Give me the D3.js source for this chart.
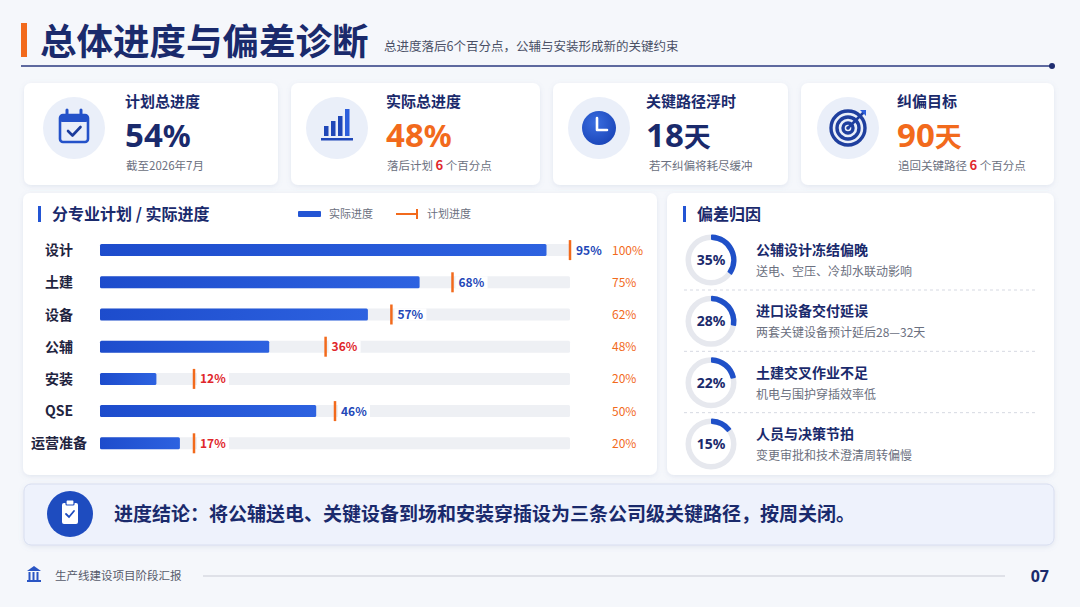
<!DOCTYPE html>
<html><head><meta charset="utf-8">
<script src="https://cdn.jsdelivr.net/npm/d3@7"></script>
<style>
body{margin:0;background:#f5f7fb;}
svg{display:block;font-family:"Noto Sans CJK SC","Noto Sans",sans-serif;}
</style>
</head><body>
<svg id="c" width="1080" height="607"></svg>
<script>
// ---------- data ----------
const pageTitle = "总体进度与偏差诊断";
const pageSubtitle = "总进度落后6个百分点，公辅与安装形成新的关键约束";
const kpiLabels = ["计划总进度", "实际总进度", "关键路径浮时", "纠偏目标"];
const kpiValues = ["54", "48", "18", "90"];
const kpiUnits = ["%", "%", "天", "天"];
const kpiNotePre = ["截至2026年7月", "落后计划 ", "若不纠偏将耗尽缓冲", "追回关键路径 "];
const kpiNoteNum = ["", "6", "", "6"];
const kpiNotePost = ["", " 个百分点", "", " 个百分点"];

const chartTitle = "分专业计划 / 实际进度";
const legendLabels = ["实际进度", "计划进度"];
const categories = ["设计", "土建", "设备", "公辅", "安装", "QSE", "运营准备"];
const actual = [95, 68, 57, 36, 12, 46, 17];
const plan = [100, 75, 62, 48, 20, 50, 20];

const causeTitle = "偏差归因";
const causes = ["公辅设计冻结偏晚", "进口设备交付延误", "土建交叉作业不足", "人员与决策节拍"];
const causeShares = [35, 28, 22, 15];
const causeNotes = ["送电、空压、冷却水联动影响", "两套关键设备预计延后28—32天", "机电与围护穿插效率低", "变更审批和技术澄清周转偏慢"];

const conclusion = "进度结论：将公辅送电、关键设备到场和安装穿插设为三条公司级关键路径，按周关闭。";
const footerText = "生产线建设项目阶段汇报";
const pageNo = "07";

// ---------- styles ----------
const NAVY = "#1a2a6c", BLUE = "#2355d4", ORANGE = "#f26a1c", RED = "#e0262b", GRAY = "#6b7080";

const svg = d3.select("#c");
const defs = svg.append("defs");
const f = defs.append("filter").attr("id", "sh").attr("x", "-10%").attr("y", "-10%").attr("width", "120%").attr("height", "130%");
f.append("feDropShadow").attr("dx", 0).attr("dy", 1.5).attr("stdDeviation", 2.5).attr("flood-color", "#7d8bb5").attr("flood-opacity", 0.16);
const g1 = defs.append("linearGradient").attr("id", "barg").attr("x1", 0).attr("x2", 1);
g1.append("stop").attr("offset", 0).attr("stop-color", "#1d4ccc");
g1.append("stop").attr("offset", 1).attr("stop-color", "#2d62e0");
const g2 = defs.append("radialGradient").attr("id", "clk").attr("cx", "40%").attr("cy", "35%").attr("r", "70%");
g2.append("stop").attr("offset", 0).attr("stop-color", "#3a6de0");
g2.append("stop").attr("offset", 1).attr("stop-color", "#1a45b8");

svg.append("rect").attr("width", 1080).attr("height", 607).attr("fill", "#f5f7fb");

// ---------- header ----------
svg.append("rect").attr("x", 21).attr("y", 23).attr("width", 6).attr("height", 34).attr("fill", ORANGE);
svg.append("text").attr("x", 40).attr("y", 55).attr("font-size", 36.5).attr("font-weight", 700).attr("fill", NAVY).text(pageTitle);
svg.append("text").attr("x", 384).attr("y", 51).attr("font-size", 12.5).attr("fill", "#4a5066").text(pageSubtitle);
svg.append("line").attr("x1", 21).attr("x2", 1050).attr("y1", 66).attr("y2", 66).attr("stroke", "#2b3a80").attr("stroke-width", 1.6);
svg.append("circle").attr("cx", 1052).attr("cy", 66).attr("r", 3).attr("fill", "#1f2d70");

// ---------- KPI cards ----------
const cardX = [24, 291, 553, 801], cardW = [254, 249, 235, 253];
kpiLabels.forEach((lab, i) => {
  const g = svg.append("g");
  g.append("rect").attr("x", cardX[i]).attr("y", 83).attr("width", cardW[i]).attr("height", 102).attr("rx", 7).attr("fill", "#fff").attr("filter", "url(#sh)");
  const cx = [74, 337, 599, 848][i], cy = 128;
  g.append("circle").attr("cx", cx).attr("cy", cy).attr("r", 31).attr("fill", "#eaeff9");
  const tx = [125, 386, 646, 897][i];
  g.append("text").attr("x", tx).attr("y", 107).attr("font-size", 15).attr("font-weight", 700).attr("fill", NAVY).text(lab);
  const orange = (i === 1 || i === 3);
  const v = g.append("text").attr("x", tx).attr("y", 147).attr("font-weight", 700).attr("fill", orange ? ORANGE : NAVY);
  v.append("tspan").attr("font-size", 33).attr("font-family", "'Noto Sans',sans-serif").text(kpiValues[i]);
  v.append("tspan").attr("font-size", kpiUnits[i] === "%" ? 31 : 27).attr("font-family", kpiUnits[i] === "%" ? "'Noto Sans',sans-serif" : null).text(kpiUnits[i]);
  const n = g.append("text").attr("x", i === 2 ? 649 : tx + 1).attr("y", 170).attr("font-size", 11.5).attr("fill", GRAY);
  n.append("tspan").text(kpiNotePre[i]);
  if (kpiNoteNum[i]) {
    n.append("tspan").attr("fill", RED).attr("font-weight", 700).attr("font-size", 13).text(kpiNoteNum[i]);
    n.append("tspan").text(kpiNotePost[i]);
  }
  // icons
  if (i === 0) {
    g.append("rect").attr("x", cx - 14).attr("y", cy - 13).attr("width", 28).attr("height", 27).attr("rx", 3).attr("fill", "none").attr("stroke", "#2452c9").attr("stroke-width", 2.6);
    g.append("rect").attr("x", cx - 14).attr("y", cy - 13).attr("width", 28).attr("height", 7).attr("rx", 2).attr("fill", "#2452c9");
    [-7, 7].forEach(d => g.append("line").attr("x1", cx + d).attr("x2", cx + d).attr("y1", cy - 18).attr("y2", cy - 10).attr("stroke", "#2452c9").attr("stroke-width", 3).attr("stroke-linecap", "round"));
    g.append("path").attr("d", `M${cx-6},${cy+3} L${cx-1.5},${cy+7.5} L${cx+6.5},${cy-1}`).attr("fill", "none").attr("stroke", "#1b3c9c").attr("stroke-width", 2.6).attr("stroke-linecap", "round").attr("stroke-linejoin", "round");
  } else if (i === 1) {
    const hs = [10, 15, 20, 27];
    hs.forEach((h, k) => g.append("rect").attr("x", cx - 13 + k * 7).attr("y", cy + 8 - h).attr("width", 4.5).attr("height", h).attr("fill", k === 3 ? "#2d5fdc" : "#1f47b8"));
    g.append("rect").attr("x", cx - 16).attr("y", cy + 10).attr("width", 32).attr("height", 2.5).attr("fill", "#1f47b8");
  } else if (i === 2) {
    g.append("circle").attr("cx", cx).attr("cy", cy).attr("r", 17).attr("fill", "url(#clk)");
    g.append("path").attr("d", `M${cx-2},${cy-10} L${cx-2},${cy+2} L${cx+8},${cy+2}`).attr("fill", "none").attr("stroke", "#fff").attr("stroke-width", 2.6).attr("stroke-linecap", "round").attr("stroke-linejoin", "round");
  } else {
    [17, 11, 5].forEach(r => g.append("circle").attr("cx", cx).attr("cy", cy).attr("r", r).attr("fill", "none").attr("stroke", "#1f3f9e").attr("stroke-width", 3.4));
    g.append("line").attr("x1", cx).attr("y1", cy).attr("x2", cx + 15).attr("y2", cy - 15).attr("stroke", "#1f3f9e").attr("stroke-width", 2.6).attr("stroke-linecap", "round");
    g.append("path").attr("d", `M${cx+12},${cy-18} L${cx+18},${cy-18} L${cx+18},${cy-12} Z`).attr("fill", "#2d5fdc");
    g.append("circle").attr("cx", cx).attr("cy", cy).attr("r", 1.8).attr("fill", "#1f3f9e");
  }
});

// ---------- bar chart panel ----------
svg.append("rect").attr("x", 23).attr("y", 193).attr("width", 634).attr("height", 282).attr("rx", 7).attr("fill", "#fff").attr("filter", "url(#sh)");
svg.append("rect").attr("x", 38).attr("y", 206).attr("width", 3).attr("height", 16).attr("fill", BLUE);
svg.append("text").attr("x", 52).attr("y", 220).attr("font-size", 16).attr("font-weight", 700).attr("fill", NAVY).text(chartTitle);
// legend
svg.append("rect").attr("x", 298).attr("y", 211).attr("width", 23).attr("height", 6).attr("rx", 1).attr("fill", BLUE);
svg.append("text").attr("x", 329).attr("y", 218).attr("font-size", 11).attr("fill", GRAY).text(legendLabels[0]);
svg.append("line").attr("x1", 396).attr("x2", 418).attr("y1", 214).attr("y2", 214).attr("stroke", ORANGE).attr("stroke-width", 2);
svg.append("line").attr("x1", 417).attr("x2", 417).attr("y1", 209).attr("y2", 219).attr("stroke", ORANGE).attr("stroke-width", 2);
svg.append("text").attr("x", 427).attr("y", 218).attr("font-size", 11).attr("fill", GRAY).text(legendLabels[1]);

const x = d3.scaleLinear().domain([0, 100]).range([100, 570]);
const y = d3.scalePoint().domain(categories).range([234, 459.4]).padding(0.5);
const bh = 12;
const labX = (i) => Math.max(x(actual[i]), x(plan[i])) + 6;
const rows = svg.append("g").selectAll("g").data(categories).join("g").attr("transform", d => `translate(0,${y(d)})`);
rows.append("text").attr("x", 59).attr("y", 5).attr("text-anchor", "middle").attr("font-size", 14).attr("font-weight", 700).attr("fill", "#1f2440").text(d => d);
rows.append("rect").attr("x", x(0)).attr("y", -bh / 2).attr("width", x(100) - x(0)).attr("height", bh).attr("rx", 1.5).attr("fill", "#eef0f4");
rows.append("rect").attr("x", x(0)).attr("y", -bh / 2).attr("width", (d, i) => x(actual[i]) - x(0)).attr("height", bh).attr("rx", 1.5).attr("fill", "url(#barg)");
rows.append("line").attr("x1", (d, i) => x(plan[i])).attr("x2", (d, i) => x(plan[i])).attr("y1", -10).attr("y2", 10).attr("stroke", ORANGE).attr("stroke-width", 2.5);
rows.append("rect").attr("x", (d, i) => labX(i) - 3).attr("y", -bh / 2).attr("width", 32).attr("height", bh).attr("fill", "#fff");
rows.append("text").attr("x", (d, i) => labX(i)).attr("y", 4.5).attr("font-size", 12).attr("font-weight", 700)
  .attr("fill", (d, i) => actual[i] / plan[i] < 0.9 ? RED : "#2448b8").text((d, i) => actual[i] + "%");
rows.append("text").attr("x", 612).attr("y", 4.5).attr("font-size", 12).attr("fill", ORANGE).text((d, i) => plan[i] + "%");

// ---------- cause panel ----------
svg.append("rect").attr("x", 667).attr("y", 193).attr("width", 387).attr("height", 282).attr("rx", 7).attr("fill", "#fff").attr("filter", "url(#sh)");
svg.append("rect").attr("x", 683).attr("y", 206).attr("width", 3).attr("height", 16).attr("fill", BLUE);
svg.append("text").attr("x", 697).attr("y", 220).attr("font-size", 16).attr("font-weight", 700).attr("fill", NAVY).text(causeTitle);
const cy0 = d3.scalePoint().domain(causes).range([260, 444]);
const arcBg = d3.arc().innerRadius(20).outerRadius(25.5).startAngle(0).endAngle(2 * Math.PI);
const arcFg = d3.arc().innerRadius(20).outerRadius(25.5).startAngle(0).cornerRadius(1);
const items = svg.append("g").selectAll("g").data(causes).join("g").attr("transform", d => `translate(0,${cy0(d)})`);
items.append("path").attr("transform", "translate(711,0)").attr("d", arcBg()).attr("fill", "#e6e8ee");
items.append("path").attr("transform", "translate(711,0)").attr("d", (d, i) => arcFg({ endAngle: causeShares[i] / 100 * 2 * Math.PI })).attr("fill", "#1f50c8");
items.append("text").attr("x", 711).attr("y", 5).attr("text-anchor", "middle").attr("font-size", 14).attr("font-weight", 700).attr("fill", NAVY).attr("font-family", "'Noto Sans',sans-serif").text((d, i) => causeShares[i] + "%");
items.append("text").attr("x", 756).attr("y", -5).attr("font-size", 14).attr("font-weight", 700).attr("fill", NAVY).text(d => d);
items.append("text").attr("x", 756).attr("y", 16).attr("font-size", 12).attr("fill", GRAY).text((d, i) => causeNotes[i]);
items.filter((d, i) => i < causes.length - 1).append("line").attr("x1", 684).attr("x2", 1036).attr("y1", 30).attr("y2", 30)
  .attr("stroke", "#d6d9e2").attr("stroke-dasharray", "3,3");

// ---------- conclusion ----------
svg.append("rect").attr("x", 24).attr("y", 484).attr("width", 1030).attr("height", 61).attr("rx", 7).attr("fill", "#eef2fc").attr("stroke", "#d8def0").attr("filter", "url(#sh)");
svg.append("circle").attr("cx", 70).attr("cy", 514).attr("r", 23).attr("fill", "#1e4cbf");
svg.append("rect").attr("x", 62).attr("y", 503).attr("width", 16).attr("height", 21).attr("rx", 2).attr("fill", "#fff");
svg.append("rect").attr("x", 66).attr("y", 500).attr("width", 8).attr("height", 5).attr("rx", 1).attr("fill", "#fff").attr("stroke", "#1e4cbf").attr("stroke-width", 1.2);
svg.append("path").attr("d", "M66,514 L69,517 L74,511").attr("fill", "none").attr("stroke", "#1e4cbf").attr("stroke-width", 1.8).attr("stroke-linecap", "round");
svg.append("text").attr("x", 114).attr("y", 521).attr("font-size", 19).attr("font-weight", 700).attr("fill", NAVY).text(conclusion);

// ---------- footer ----------
const fi = svg.append("g").attr("fill", "#2a55c4");
fi.append("path").attr("d", "M27,571 L34,566 L41,571 Z");
[28.5, 32.5, 36.5].forEach(xx => fi.append("rect").attr("x", xx).attr("y", 572).attr("width", 2).attr("height", 8));
fi.append("rect").attr("x", 27).attr("y", 580).attr("width", 14).attr("height", 2);
svg.append("text").attr("x", 55).attr("y", 580).attr("font-size", 11.5).attr("fill", "#555a6a").text(footerText);
svg.append("line").attr("x1", 203).attr("x2", 1005).attr("y1", 576).attr("y2", 576).attr("stroke", "#c9ccd6").attr("stroke-width", 1.2);
svg.append("text").attr("x", 1049).attr("y", 582).attr("text-anchor", "end").attr("font-size", 16).attr("font-weight", 700).attr("fill", NAVY).attr("font-family", "'Noto Sans',sans-serif").text(pageNo);
</script>
</body></html>
